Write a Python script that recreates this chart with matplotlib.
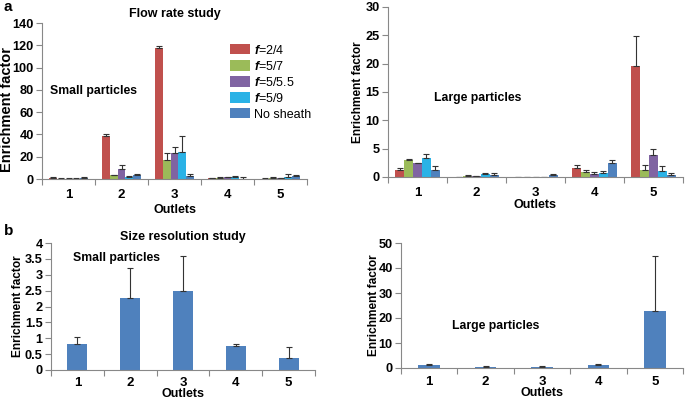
import matplotlib
matplotlib.use("Agg")
import matplotlib.pyplot as plt
import numpy as np

plt.rcParams.update({
    "font.family": ["Liberation Sans", "DejaVu Sans"],
    "font.weight": "bold",
    "font.size": 9,
    "mathtext.fontset": "custom",
    "mathtext.it": "Liberation Sans:italic",
})

outlets = ["1", "2", "3", "4", "5"]
series = ["$f$=2/4", "$f$=5/7", "$f$=5/5.5", "$f$=5/9", "No sheath"]
colors = ["#C0504D", "#9BBB59", "#8064A2", "#2AB2E6", "#4F81BD"]

# flow rate study, small particles (rows = series, cols = outlets)
flow_small = [
    [1.0, 39.0, 118.0, 0.5, 0.3],
    [0.4, 3.5, 17.0, 1.0, 1.0],
    [0.4, 9.0, 23.0, 1.5, 0.5],
    [0.4, 2.0, 24.5, 1.5, 2.0],
    [1.2, 3.5, 3.0, 0.2, 2.5],
]
flow_small_err = [
    [0.5, 1.0, 1.0, 0.5, 0.3],
    [0.2, 0.5, 6.0, 0.4, 0.5],
    [0.2, 4.0, 6.0, 0.5, 0.3],
    [0.2, 0.5, 14.0, 1.5, 2.5],
    [1.0, 0.7, 1.5, 1.2, 1.0],
]

# flow rate study, large particles
flow_large = [
    [1.2, 0.05, 0.02, 1.5, 19.5],
    [3.0, 0.2, 0.05, 0.9, 1.3],
    [2.4, 0.1, 0.05, 0.6, 3.8],
    [3.4, 0.5, 0.05, 0.7, 1.1],
    [1.3, 0.4, 0.3, 2.5, 0.4],
]
flow_large_err = [
    [0.3, 0.0, 0.0, 0.6, 5.4],
    [0.1, 0.1, 0.0, 0.3, 0.8],
    [0.1, 0.05, 0.0, 0.3, 1.2],
    [0.7, 0.2, 0.0, 0.4, 0.9],
    [0.6, 0.3, 0.2, 0.5, 0.3],
]

# size resolution study
size_small = [0.82, 2.28, 2.48, 0.77, 0.38]
size_small_err = [0.21, 0.92, 1.1, 0.05, 0.36]
size_large = [1.3, 0.6, 0.5, 1.3, 23.0]
size_large_err = [0.3, 0.2, 0.3, 0.2, 21.7]

W, H = 685, 401
fig = plt.figure(figsize=(W / 100, H / 100), dpi=100)


def box(x0, x1, y0, y1):
    return [x0 / W, 1 - y1 / H, (x1 - x0) / W, (y1 - y0) / H]


def style(ax, ymax, ystep, fmt=None, xpad=0, ypad=0, tpad=7, ysize=8.6):
    x = np.arange(1, 6)
    ax.set_xlim(0.5, 5.5)
    ax.set_ylim(0, ymax)
    ticks = np.arange(0, ymax + ystep / 2, ystep)
    ax.set_yticks(ticks)
    if fmt:
        ax.set_yticklabels([fmt(t) for t in ticks])
    ax.set_xticks(np.arange(0.5, 6, 1))
    ax.set_xticklabels([])
    ax.set_xticks(x, minor=True)
    ax.set_xticklabels(outlets, minor=True, fontsize=9.5)
    ax.tick_params(axis="x", which="minor", length=0, pad=tpad)
    ax.tick_params(axis="x", which="major", length=4, color="#888888")
    ax.tick_params(axis="y", length=4, color="#888888", labelsize=9.2, pad=2)
    for s in ["top", "right"]:
        ax.spines[s].set_visible(False)
    for s in ["left", "bottom"]:
        ax.spines[s].set_color("#888888")
        ax.spines[s].set_linewidth(0.8)
    ax.set_xlabel("Outlets", fontsize=9, labelpad=xpad, fontweight="bold")
    ax.set_ylabel("Enrichment factor", fontsize=ysize, labelpad=ypad, fontweight="bold")


def grouped(ax, vals, errs):
    x = np.arange(1, 6)
    bw = 0.15
    for i, (v, e) in enumerate(zip(vals, errs)):
        pos = x + (i - 2) * bw
        ax.bar(pos, v, width=bw, color=colors[i], label=series[i],
               yerr=[np.zeros(5), e], capsize=2,
               error_kw=dict(ecolor="#333333", elinewidth=0.8, capthick=0.8))


ax1 = fig.add_axes(box(42, 307, 23, 179))
grouped(ax1, flow_small, flow_small_err)
style(ax1, 140, 20, xpad=2, ysize=10.5)
ax1.yaxis.set_label_coords(-0.105, 0.445)
ax1.set_title("Flow rate study", fontsize=9, fontweight="bold", pad=4)
ax1.text(0.03, 0.565, "Small particles", transform=ax1.transAxes,
         fontsize=8.8, fontweight="bold", va="center")
leg = ax1.legend(loc="upper left", bbox_to_anchor=(0.69, 0.9), frameon=False,
                 prop=dict(size=9, weight="normal"), handlelength=1.6,
                 handleheight=0.9, labelspacing=0.25, handletextpad=0.3,
                 borderaxespad=0)

ax2 = fig.add_axes(box(388, 683, 7, 177))
grouped(ax2, flow_large, flow_large_err)
style(ax2, 30, 5, xpad=0, ypad=1)
ax2.text(0.155, 0.465, "Large particles", transform=ax2.transAxes,
         fontsize=8.8, fontweight="bold", va="center")

ax3 = fig.add_axes(box(51, 315, 243, 370))
ax3.bar(np.arange(1, 6), size_small, width=0.38, color="#4F81BD",
        yerr=[np.zeros(5), size_small_err], capsize=2,
        error_kw=dict(ecolor="#333333", elinewidth=0.8, capthick=0.8))
style(ax3, 4, 0.5, fmt=lambda t: f"{t:g}", xpad=-1, ypad=1, tpad=5)
ax3.set_title("Size resolution study", fontsize=9, fontweight="bold", pad=2)
ax3.text(0.085, 0.885, "Small particles", transform=ax3.transAxes,
         fontsize=8.8, fontweight="bold", va="center")

ax4 = fig.add_axes(box(401, 683, 243, 368))
ax4.bar(np.arange(1, 6), size_large, width=0.38, color="#4F81BD",
        yerr=[np.zeros(5), size_large_err], capsize=2,
        error_kw=dict(ecolor="#333333", elinewidth=0.8, capthick=0.8))
style(ax4, 50, 10, xpad=-1, ypad=-1, tpad=6)
ax4.text(0.18, 0.34, "Large particles", transform=ax4.transAxes,
         fontsize=8.8, fontweight="bold", va="center")

fig.text(4 / W, 1 - 7 / H, "a", fontsize=11, fontweight="bold", va="center")
fig.text(4 / W, 1 - 231 / H, "b", fontsize=11, fontweight="bold", va="center")

fig.savefig("out.png", dpi=100)
